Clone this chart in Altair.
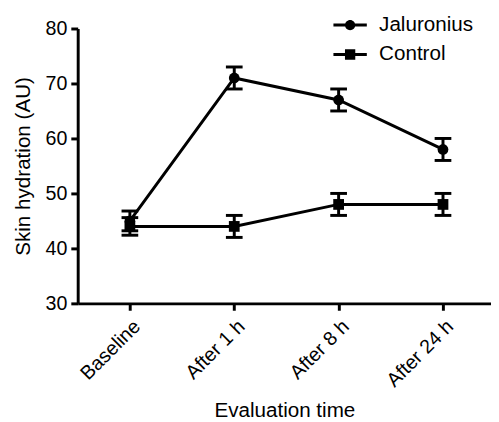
import json
import altair as alt
import pandas as pd

categories = ["Baseline", "After 1 h", "After 8 h", "After 24 h"]
series_names = ["Jaluronius", "Control"]
jaluronius_mean = [45, 71, 67, 58]
jaluronius_err = [1.8, 2.0, 2.0, 2.0]
control_mean = [44, 44, 48, 48]
control_err = [1.6, 2.0, 2.0, 2.0]
y_ticks = [30, 40, 50, 60, 70, 80]

rows = []
for name, means, errs in [("Jaluronius", jaluronius_mean, jaluronius_err),
                          ("Control", control_mean, control_err)]:
    for i, (c, m, e) in enumerate(zip(categories, means, errs)):
        rows.append({"group": name, "time": c, "idx": i, "mean": m, "lo": m - e, "hi": m + e})
df = pd.DataFrame(rows)

FONT = "Liberation Sans"
label_expr = json.dumps(categories) + "[datum.value]"

x_enc = alt.X(
    "idx:Q",
    scale=alt.Scale(domain=[-0.5, 3.46], nice=False, zero=False),
    axis=alt.Axis(values=list(range(len(categories))), labelExpr=label_expr,
                  labelAngle=-45, labelAlign="right", labelBaseline="top",
                  labelPadding=6, titlePadding=10),
    title="Evaluation time",
)
y_scale = alt.Scale(domain=[30, 80], nice=False, zero=False)
y_axis = alt.Axis(values=y_ticks, titlePadding=12)
Y_TITLE = "Skin hydration (AU)"

base = alt.Chart(df).encode(x=x_enc)

lines = base.mark_line(color="black", strokeWidth=3).encode(
    y=alt.Y("mean:Q", scale=y_scale, axis=y_axis, title=Y_TITLE),
    detail="group:N",
)
rules = base.mark_rule(color="black", strokeWidth=3).encode(
    y=alt.Y("lo:Q", scale=y_scale, axis=y_axis, title=Y_TITLE),
    y2="hi:Q",
)
cap_lo = base.mark_tick(color="black", thickness=3, size=17, orient="horizontal", opacity=1).encode(
    y=alt.Y("lo:Q", scale=y_scale, axis=y_axis, title=Y_TITLE),
)
cap_hi = base.mark_tick(color="black", thickness=3, size=17, orient="horizontal", opacity=1).encode(
    y=alt.Y("hi:Q", scale=y_scale, axis=y_axis, title=Y_TITLE),
)
points = base.mark_point(filled=True, color="black", opacity=1, size=120).encode(
    y=alt.Y("mean:Q", scale=y_scale, axis=y_axis, title=Y_TITLE),
    shape=alt.Shape("group:N", scale=alt.Scale(domain=series_names, range=["circle", "square"]), legend=None),
)

path_circle = "M-3.4,-0.3H3.4V0.3H-3.4Z M1.05,0A1.05,1.05 0 1,1 -1.05,0A1.05,1.05 0 1,1 1.05,0Z"
path_square = "M-3.4,-0.3H3.4V0.3H-3.4Z M-1.05,-1.05H1.05V1.05H-1.05Z"

legend_layer = alt.Chart(df).transform_filter("false").mark_point(
    filled=True, color="black", opacity=1
).encode(
    x=x_enc,
    y=alt.Y("mean:Q", scale=y_scale, axis=y_axis, title=Y_TITLE),
    shape=alt.Shape(
        "group:N",
        scale=alt.Scale(domain=series_names, range=[path_circle, path_square]),
        legend=alt.Legend(title=None, orient="none", legendX=267, legendY=-14,
                          labelFontSize=21, labelFont=FONT, labelColor="black",
                          symbolSize=100, symbolFillColor="black", symbolStrokeWidth=0,
                          symbolOpacity=1, labelOffset=19, rowPadding=8, padding=0),
    ),
)

chart = alt.layer(lines, rules, cap_lo, cap_hi, points, legend_layer).resolve_scale(
    shape="independent"
).properties(
    width=421, height=280,
    padding={"left": 4, "top": 3, "right": 0, "bottom": 0},
).configure_axis(
    labelFont=FONT, titleFont=FONT, labelFontSize=20, titleFontSize=21,
    labelColor="black", titleColor="black", titleFontWeight="normal",
    domainColor="black", domainWidth=3, tickColor="black", tickWidth=3,
    tickSize=7, grid=False, labelPadding=4,
).configure_view(stroke=None)

chart.save("out.html", embed_options={"renderer": "svg", "actions": False})
